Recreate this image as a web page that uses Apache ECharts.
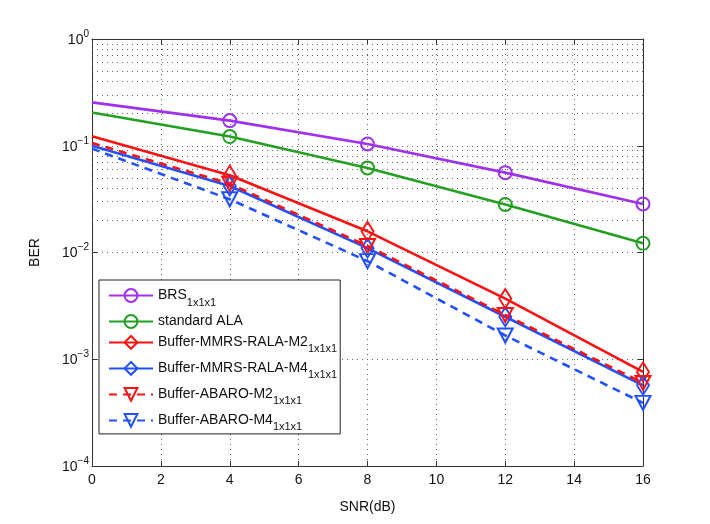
<!DOCTYPE html>
<html><head><meta charset="utf-8">
<script src="https://cdn.jsdelivr.net/npm/echarts@6/dist/echarts.min.js"></script>
<style>html,body{margin:0;padding:0;background:#fff}#c{width:710px;height:524px}</style>
</head><body><div id="c"></div>
<script>
var snr = [0, 4, 8, 12, 16];
var brs = [0.255, 0.172, 0.104, 0.056, 0.0285];
var ala = [0.205, 0.122, 0.062, 0.0282, 0.0122];
var ralaM2 = [0.123, 0.053, 0.0158, 0.0037, 0.00076];
var ralaM4 = [0.100, 0.042, 0.0110, 0.0025, 0.00057];
var abaroM2 = [0.106, 0.044, 0.0115, 0.0026, 0.00060];
var abaroM4 = [0.094, 0.0315, 0.0083, 0.00167, 0.00039];
var names = ['BRS', 'standard ALA', 'Buffer-MMRS-RALA-M2', 'Buffer-MMRS-RALA-M4', 'Buffer-ABARO-M2', 'Buffer-ABARO-M4'];
var subs = ['1x1x1', '', '1x1x1', '1x1x1', '1x1x1', '1x1x1'];
var xTicks = [0, 2, 4, 6, 8, 10, 12, 14, 16];

var font = 'Liberation Sans, Arial, sans-serif';
var chart = echarts.init(document.getElementById('c'));

// first point (SNR 0) is drawn without a marker, as in the reference
function pairs(v) {
  return snr.map(function (x, i) {
    return i === 0 ? { value: [x, v[i]], symbol: 'none' } : [x, v[i]];
  });
}

var minor = [];
for (var d = -4; d < 0; d++) {
  for (var m = 2; m <= 9; m++) minor.push({ yAxis: m * Math.pow(10, d) });
}
var gridDot = { color: '#666', type: [1, 4], width: 1 };

function mk(name, data, color, symbol, size, dashed, rotate) {
  return {
    name: name, type: 'line', data: pairs(data),
    symbol: symbol, symbolSize: size, symbolRotate: rotate || 0,
    lineStyle: { color: color, width: 2.6, type: dashed ? [8, 6] : 'solid' },
    itemStyle: { color: 'rgba(255,255,255,0)', borderColor: color, borderWidth: 2 },
    z: 3
  };
}

var series = [
  mk(names[0], brs, '#a030f0', 'circle', 13, false),
  mk(names[1], ala, '#22a020', 'circle', 13, false),
  mk(names[2], ralaM2, '#ff1010', 'diamond', [12, 19], false),
  mk(names[3], ralaM4, '#2050ff', 'diamond', [12, 19], false),
  mk(names[4], abaroM2, '#ff1010', 'triangle', [15, 14], true, 180),
  mk(names[5], abaroM4, '#2050ff', 'triangle', [15, 14], true, 180),
  {
    name: '_grid', type: 'line', data: [], silent: true, z: 1,
    markLine: { silent: true, symbol: 'none', label: { show: false },
      lineStyle: gridDot, data: minor, animation: false }
  }
];

chart.setOption({
  animation: false,
  backgroundColor: '#fff',
  textStyle: { fontFamily: font },
  grid: { left: 92, right: 67, top: 39, bottom: 58, show: false },
  legend: {
    data: names, orient: 'vertical', left: 99, top: 280,
    backgroundColor: '#fff', borderColor: '#222', borderWidth: 1,
    padding: [8, 3, 1, 9], itemGap: 6, itemWidth: 44, itemHeight: 16,
    formatter: function (n) {
      var s = subs[names.indexOf(n)];
      return '{a|' + n + '}' + (s ? '{s|' + s + '}' : '');
    },
    textStyle: {
      fontFamily: font, color: '#111',
      rich: {
        a: { fontSize: 14, fontFamily: font, color: '#111', verticalAlign: 'top', lineHeight: 15 },
        s: { fontSize: 11, fontFamily: font, color: '#111', verticalAlign: 'top', lineHeight: 12, padding: [9, 0, 0, 0] }
      }
    }
  },
  xAxis: [{
    type: 'value', min: 0, max: 16, interval: 2,
    name: 'SNR(dB)', nameLocation: 'middle', nameGap: 34,
    nameTextStyle: { fontSize: 14, color: '#111', fontFamily: font },
    axisLine: { show: true, lineStyle: { color: '#333', width: 1 } },
    axisTick: { show: true, inside: true, length: 5, lineStyle: { color: '#333' } },
    axisLabel: { fontSize: 14, color: '#111', margin: 7, fontFamily: font,
      customValues: xTicks },
    splitLine: { show: true, lineStyle: gridDot }
  }, {
    type: 'value', min: 0, max: 16, interval: 2, position: 'top',
    axisLine: { show: true, onZero: false, lineStyle: { color: '#333', width: 1 } },
    axisTick: { show: true, inside: true, length: 5, lineStyle: { color: '#333' } },
    axisLabel: { show: false }, splitLine: { show: false }
  }],
  yAxis: [{
    type: 'log', logBase: 10, min: 1e-4, max: 1,
    name: 'BER', nameLocation: 'middle', nameGap: 50, nameRotate: 90,
    nameTextStyle: { fontSize: 14, color: '#111', fontFamily: font },
    axisLine: { show: true, lineStyle: { color: '#333', width: 1 } },
    axisTick: { show: true, inside: true, length: 5, lineStyle: { color: '#333' } },
    axisLabel: {
      margin: 3, fontFamily: font,
      formatter: function (v) {
        var e = Math.round(Math.log10(v));
        return '{b|10}{e|' + (e < 0 ? '\u2212' + (-e) : e) + '}';
      },
      rich: {
        b: { fontSize: 14, color: '#111', fontFamily: font, verticalAlign: 'bottom', lineHeight: 16 },
        e: { fontSize: 10, color: '#111', fontFamily: font, verticalAlign: 'bottom', lineHeight: 10, padding: [0, 0, 8, 0] }
      }
    },
    splitLine: { show: true, lineStyle: gridDot }
  }, {
    type: 'log', logBase: 10, min: 1e-4, max: 1, position: 'right',
    axisLine: { show: true, onZero: false, lineStyle: { color: '#333', width: 1 } },
    axisTick: { show: true, inside: true, length: 5, lineStyle: { color: '#333' } },
    axisLabel: { show: false }, splitLine: { show: false }
  }],
  series: series
});
</script></body></html>
